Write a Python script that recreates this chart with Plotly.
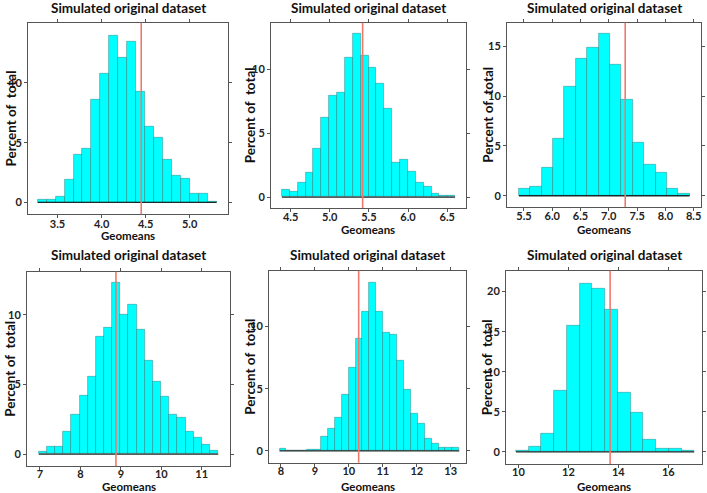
import plotly.graph_objects as go

W, H = 707, 493

# ---------------- data ----------------
titles = ["Simulated original dataset"] * 6

p1_start, p1_width = 3.276, 0.1015
p1_pct = [0.2, 0.2, 0.5, 1.9, 4.0, 4.5, 8.6, 10.8, 14.0, 12.1, 13.5, 9.3, 6.3, 5.4, 3.6, 2.2, 2.0, 0.7, 0.7, 0.05]
p1_ref = 4.45

p2_start, p2_width = 4.39, 0.1005
p2_pct = [0.6, 0.4, 1.1, 1.9, 3.8, 6.2, 7.9, 8.2, 10.9, 12.8, 11.1, 10.1, 8.9, 6.9, 2.7, 2.9, 2.0, 1.15, 0.8, 0.3, 0.15, 0.1]
p2_ref = 5.42

p3_start, p3_width = 5.41, 0.2013
p3_pct = [0.7, 0.95, 2.85, 5.75, 10.9, 13.7, 14.8, 16.2, 13.1, 9.6, 5.3, 3.1, 2.35, 0.7, 0.2]
p3_ref = 7.29

p4_start, p4_width = 6.97, 0.2018
p4_pct = [0.15, 0.5, 0.5, 1.6, 2.85, 4.2, 5.55, 8.4, 9.1, 12.3, 10.0, 10.7, 8.9, 6.7, 5.2, 4.15, 2.85, 2.6, 1.6, 1.15, 0.7, 0.25]
p4_ref = 8.88

p5_start, p5_width = 7.96, 0.2035
p5_pct = [0.15, 0.0, 0.0, 0.0, 0.1, 0.1, 1.15, 1.75, 2.7, 4.5, 6.7, 9.0, 11.2, 13.55, 11.2, 9.5, 9.35, 7.25, 4.9, 3.0, 2.2, 0.95, 0.6, 0.25, 0.25, 0.25]
p5_ref = 10.29

p6_start, p6_width = 9.9, 0.51
p6_pct = [0.2, 0.7, 2.3, 7.6, 15.7, 21.0, 20.4, 17.8, 7.4, 4.9, 1.5, 0.4, 0.4, 0.2]
p6_ref = 13.67

x_ticks = [[3.5, 4.0, 4.5, 5.0], [4.5, 5.0, 5.5, 6.0, 6.5], [5.5, 6.0, 6.5, 7.0, 7.5, 8.0, 8.5],
           [7, 8, 9, 10, 11], [8, 9, 10, 11, 12, 13], [10, 12, 14, 16]]
x_tick_text = [["3.5", "4.0", "4.5", "5.0"], ["4.5", "5.0", "5.5", "6.0", "6.5"],
               ["5.5", "6.0", "6.5", "7.0", "7.5", "8.0", "8.5"],
               ["7", "8", "9", "10", "11"], ["8", "9", "10", "11", "12", "13"], ["10", "12", "14", "16"]]
y_ticks = [[0, 5, 10], [0, 5, 10], [0, 5, 10, 15], [0, 5, 10], [0, 5, 10], [0, 5, 10, 15, 20]]
x_title = "Geomeans"
y_title = "Percent of  total"

# ---------------- layout / style ----------------
panels = [
    (p1_start, p1_width, p1_pct, p1_ref),
    (p2_start, p2_width, p2_pct, p2_ref),
    (p3_start, p3_width, p3_pct, p3_ref),
    (p4_start, p4_width, p4_pct, p4_ref),
    (p5_start, p5_width, p5_pct, p5_ref),
    (p6_start, p6_width, p6_pct, p6_ref),
]
# frame boxes in pixels: left, right, top, bottom
frames = [(28, 228, 22.7, 214.3), (271, 466, 22.7, 208), (507, 701, 22.7, 207),
          (27, 230, 271.7, 466), (269, 466, 270.7, 462.7), (506, 702, 270.7, 464)]
x_ranges = [[3.165, 5.435], [4.25, 6.74], [5.2, 8.63], [6.68, 11.7], [7.65, 13.45], [9.5, 17.35]]
y_ranges = [[-1.0, 15.05], [-0.85, 13.65], [-1.13, 17.35], [-0.86, 13.1], [-0.95, 14.5], [-1.5, 22.6]]
title_y = [8, 8, 8, 255, 255, 255]
xtitle_y = [236, 230, 230, 486.5, 486.5, 486.5]
ytitle_x = [10, 250, 488, 10, 250, 487]
tick_standoff = [-4, -4, -4, -5, -5, -5]

FONT = "Lato"
BAR_FILL = "#00FFFF"
BAR_LINE = "rgba(40,100,100,0.5)"
REF_COLOR = "#ee7a6e"
FRAME = "#555555"

fig = go.Figure()
shapes = []
annotations = []

for i, (start, width, pct, ref) in enumerate(panels):
    k = "" if i == 0 else str(i + 1)
    xa, ya = "x" + k, "y" + k
    centers = [start + width * (j + 0.5) for j in range(len(pct))]
    fig.add_trace(go.Bar(
        x=centers, y=pct, width=[width] * len(pct), xaxis=xa, yaxis=ya,
        marker=dict(color=BAR_FILL, line=dict(color=BAR_LINE, width=0.8)),
        showlegend=False, hoverinfo="skip"))
    # baseline along the bars
    fig.add_trace(go.Scatter(
        x=[start, start + width * len(pct)], y=[0, 0], xaxis=xa, yaxis=ya, mode="lines",
        line=dict(color="#1a2a2a", width=1.3), showlegend=False, hoverinfo="skip"))
    # reference line
    shapes.append(dict(type="line", xref=xa, yref=ya + " domain", x0=ref, x1=ref, y0=0, y1=1,
                       line=dict(color=REF_COLOR, width=1.6), layer="above"))

    l, r, t, b = frames[i]
    fig.layout["xaxis" + k] = dict(
        domain=[l / W, r / W], range=x_ranges[i], anchor=ya,
        tickvals=x_ticks[i], ticktext=x_tick_text[i], ticks="outside", ticklen=3,
        tickcolor=FRAME, showline=True, linecolor=FRAME, linewidth=1, mirror="ticks",
        showgrid=False, zeroline=False, ticklabelstandoff=tick_standoff[i],
        tickfont=dict(family=FONT, size=11, color="#222", weight="bold"))
    fig.layout["yaxis" + k] = dict(
        domain=[1 - b / H, 1 - t / H], range=y_ranges[i], anchor=xa,
        tickvals=y_ticks[i], ticks="outside", ticklen=3,
        tickcolor=FRAME, showline=True, linecolor=FRAME, linewidth=1, mirror="ticks",
        showgrid=False, zeroline=False,
        tickfont=dict(family=FONT, size=11, color="#222", weight="bold"))

    cx = (l + r) / 2
    annotations.append(dict(text="<b>" + titles[i] + "</b>", xref="paper", yref="paper",
                            x=cx / W, y=1 - title_y[i] / H, showarrow=False,
                            xanchor="center", yanchor="middle",
                            font=dict(family=FONT, size=13.5, color="#111")))
    annotations.append(dict(text="<b>" + x_title + "</b>", xref="paper", yref="paper",
                            x=cx / W, y=1 - xtitle_y[i] / H, showarrow=False,
                            xanchor="center", yanchor="middle",
                            font=dict(family=FONT, size=11.5, color="#111")))
    annotations.append(dict(text="<b>" + y_title + "</b>", xref="paper", yref="paper",
                            x=ytitle_x[i] / W, y=1 - ((t + b) / 2) / H, showarrow=False,
                            textangle=-90, xanchor="center", yanchor="middle",
                            font=dict(family=FONT, size=13.5, color="#111")))

fig.update_layout(width=W, height=H, margin=dict(l=0, r=0, t=0, b=0),
                  paper_bgcolor="white", plot_bgcolor="white",
                  shapes=shapes, annotations=annotations, bargap=0)

fig.write_html("out.html", config={"displayModeBar": False},
               post_script="document.body.style.margin='0px';document.body.style.overflow='hidden';")
